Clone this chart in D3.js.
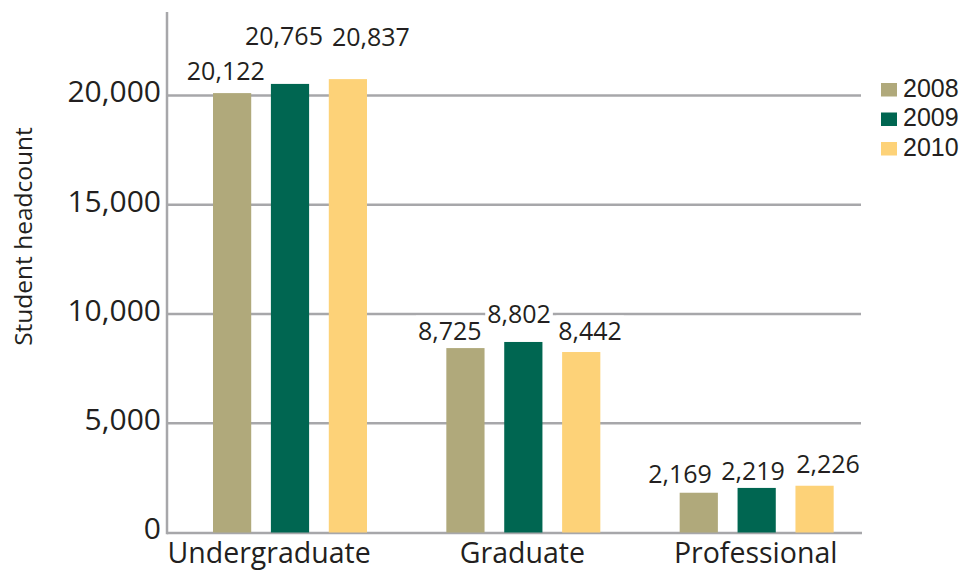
<!DOCTYPE html>
<html>
<head>
<meta charset="utf-8">
<script src="https://cdn.jsdelivr.net/npm/d3@7/dist/d3.min.js"></script>
<style>
  html, body { margin: 0; padding: 0; background: #fff; }
  svg { display: block; }
  text { font-family: "Open Sans", "Noto Sans", sans-serif; fill: #231f20; font-weight: 500; }
</style>
</head>
<body>
<svg id="chart" width="965" height="570"></svg>
<script>
// ---- data ----
const categories = ["Undergraduate", "Graduate", "Professional"];
const years = ["2008", "2009", "2010"];
// bar heights as drawn in the picture
const values2008 = [20110, 8440, 1820];
const values2009 = [20530, 8720, 2040];
const values2010 = [20750, 8260, 2140];
// value labels printed above the bars
const labels2008 = ["20,122", "8,725", "2,169"];
const labels2009 = ["20,765", "8,802", "2,219"];
const labels2010 = ["20,837", "8,442", "2,226"];
const yTicks = [0, 5000, 10000, 15000, 20000];
const yTitle = "Student headcount";

// ---- layout / style (not data) ----
const colors = ["#b0a97b", "#006651", "#fdd278"];
// label nudges [dx, dy] relative to bar centre / bar top, per category per year
const labelNudge = [
  [[-6.3, -13], [-6, -38.5], [23, -33.5]],
  [[-15.7, -8.5], [-4.3, -19], [8.8, -12.5]],
  [[-18.8, -9.7], [-3.7, -8], [13.4, -12.7]]
];

const seriesValues = [values2008, values2009, values2010];
const seriesLabels = [labels2008, labels2009, labels2010];

const svg = d3.select("#chart");
const plotLeft = 167, plotRight = 861, plotTop = 12;

const y = d3.scaleLinear().domain([0, 20000]).range([532.5, 95.5]);
const x0 = d3.scaleBand().domain(categories).range([plotLeft, 867]).paddingInner(0).paddingOuter(0);
const x1 = d3.scaleBand().domain(years).range([46, 200]).paddingInner(0.34).paddingOuter(0);

const grid = "#a7a7aa";

// gridlines
svg.append("g").selectAll("line")
  .data(yTicks.filter(d => d > 0))
  .join("line")
  .attr("x1", plotLeft).attr("x2", plotRight)
  .attr("y1", d => y(d)).attr("y2", d => y(d))
  .attr("stroke", grid).attr("stroke-width", 2.5);

// baseline
svg.append("line")
  .attr("x1", plotLeft).attr("x2", plotRight + 1)
  .attr("y1", y(0) + 0.5).attr("y2", y(0) + 0.5)
  .attr("stroke", grid).attr("stroke-width", 2.5);

// y axis tick labels via d3 axis
const yAxis = d3.axisLeft(y).tickValues(yTicks).tickFormat(d3.format(",")).tickSize(0).tickPadding(6);
const ax = svg.append("g").attr("transform", `translate(${plotLeft},0)`).call(yAxis);
ax.select(".domain").remove();
ax.selectAll("text")
  .attr("dy", "0.21em")
  .style("font-size", "30px")
  .style("font-family", "'Open Sans', sans-serif")
  .style("font-weight", "500")
  .attr("fill", "#231f20");

// vertical axis line
svg.append("line")
  .attr("x1", plotLeft).attr("x2", plotLeft)
  .attr("y1", plotTop).attr("y2", y(0) + 1.75)
  .attr("stroke", grid).attr("stroke-width", 2.5);

// bars
const rows = [];
categories.forEach((c, ci) => {
  years.forEach((yr, si) => {
    rows.push({ cat: c, ci, year: yr, si, value: seriesValues[si][ci], label: seriesLabels[si][ci] });
  });
});

svg.append("g").selectAll("rect")
  .data(rows)
  .join("rect")
  .attr("x", d => x0(d.cat) + x1(d.year))
  .attr("y", d => y(d.value))
  .attr("width", x1.bandwidth())
  .attr("height", d => y(0) - y(d.value))
  .attr("fill", d => colors[d.si]);

// value labels with white background
const lg = svg.append("g");
const labelNodes = lg.selectAll("g")
  .data(rows)
  .join("g");
labelNodes.append("rect").attr("fill", "#fff");
labelNodes.append("text")
  .attr("x", d => x0(d.cat) + x1(d.year) + x1.bandwidth() / 2 + labelNudge[d.ci][d.si][0])
  .attr("y", d => y(d.value) + labelNudge[d.ci][d.si][1])
  .attr("text-anchor", "middle")
  .style("font-size", "25px")
  .text(d => d.label);
labelNodes.each(function() {
  const g = d3.select(this);
  const bb = g.select("text").node().getBBox();
  g.select("rect")
    .attr("x", bb.x - 2).attr("y", bb.y + 3)
    .attr("width", bb.width + 4).attr("height", bb.height - 3);
});

// category labels
svg.append("g").selectAll("text")
  .data(categories)
  .join("text")
  .attr("x", (d, i) => i === 0 ? plotLeft + 0.5 : x0(d) + 46 + 76)
  .attr("y", y(0) + 30)
  .attr("text-anchor", (d, i) => i === 0 ? "start" : "middle")
  .style("font-size", "28.5px")
  .text(d => d);

// y title
svg.append("text")
  .attr("transform", "translate(32,236.5) rotate(-90)")
  .attr("text-anchor", "middle")
  .style("font-size", "24.5px")
  .text(yTitle);

// legend
const leg = svg.append("g").attr("transform", "translate(881,0)");
const legStep = 29.5, legBase = 96.5;
leg.selectAll("rect")
  .data(years)
  .join("rect")
  .attr("x", 0).attr("y", (d, i) => legBase + i * legStep - 13.5)
  .attr("width", 16).attr("height", 13.5)
  .attr("fill", (d, i) => colors[i]);
leg.selectAll("text")
  .data(years)
  .join("text")
  .attr("x", 22).attr("y", (d, i) => legBase + i * legStep)
  .style("font-family", "'Liberation Sans', Arial, sans-serif")
  .style("font-weight", "400")
  .style("font-size", "25px")
  .text(d => d);
</script>
</body>
</html>
